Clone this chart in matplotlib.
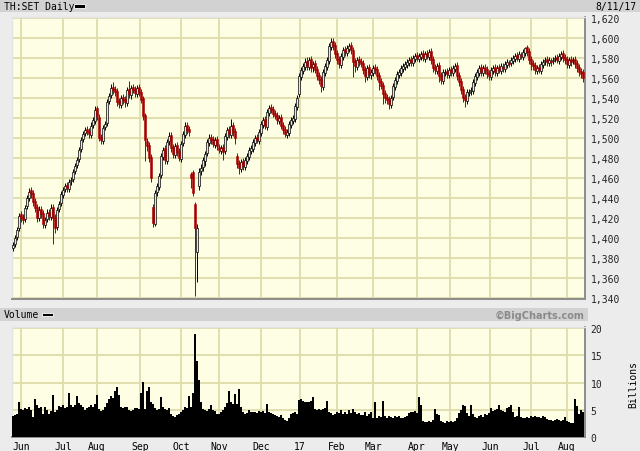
import matplotlib
matplotlib.use("Agg")
import matplotlib.pyplot as plt
from matplotlib.patches import Rectangle
import numpy as np

# ---------------- data ----------------
close = [
1393,1400,1408,1422,1420,1418,1430,1440,1446,1444,
1436,1430,1420,1428,1424,1414,1418,1425,1422,1430,
1420,1410,1428,1434,1444,1448,1452,1450,1456,1458,
1466,1472,1478,1488,1498,1504,1508,1506,1504,1512,
1518,1528,1522,1500,1498,1510,1514,1536,1542,1550,
1548,1546,1536,1534,1540,1538,1536,1548,1544,1550,
1548,1545,1550,1545,1538,1522,1498,1492,1480,1460,
1415,1445,1452,1462,1482,1488,1478,1496,1502,1490,
1484,1492,1486,1480,1494,1504,1512,1508,1506,1460,
1445,1410,1410,1466,1470,1478,1484,1496,1500,1498,
1494,1498,1492,1488,1490,1486,1502,1508,1504,1512,
1506,1500,1474,1470,1476,1472,1478,1482,1488,1490,
1496,1500,1498,1506,1514,1518,1512,1526,1530,1528,
1524,1522,1518,1520,1512,1508,1504,1506,1514,1518,
1520,1532,1540,1562,1568,1572,1576,1572,1578,1570,
1574,1568,1562,1558,1552,1566,1572,1578,1592,1596,
1592,1584,1578,1574,1582,1588,1586,1590,1592,1588,
1576,1572,1578,1576,1574,1568,1562,1570,1564,1566,
1570,1568,1562,1556,1552,1544,1540,1538,1534,1540,
1552,1558,1564,1566,1570,1572,1574,1576,1578,1576,
1580,1582,1580,1582,1584,1580,1584,1582,1586,1578,
1570,1568,1572,1562,1558,1566,1566,1564,1568,1566,
1570,1572,1562,1556,1548,1540,1538,1546,1546,1548,
1556,1562,1566,1570,1566,1570,1568,1564,1562,1568,
1570,1566,1570,1568,1572,1570,1574,1576,1574,1578,
1580,1582,1580,1584,1582,1586,1590,1586,1578,1574,
1572,1568,1570,1568,1574,1576,1578,1576,1578,1576,
1578,1580,1578,1582,1584,1580,1578,1574,1578,1576,
1578,1574,1570,1566,1564,1560]

open_ = [
1390,1394,1401,1410,1424,1421,1419,1432,1440,1448,
1445,1437,1431,1420,1429,1425,1413,1419,1426,1421,
1431,1421,1411,1429,1435,1443,1449,1453,1449,1457,
1459,1467,1473,1479,1489,1499,1505,1509,1507,1503,
1513,1517,1530,1521,1501,1497,1511,1515,1537,1543,
1551,1549,1547,1537,1533,1541,1539,1535,1549,1543,
1551,1549,1544,1551,1546,1540,1523,1497,1493,1481,
1431,1414,1446,1451,1463,1481,1490,1477,1497,1503,
1491,1483,1493,1487,1479,1495,1503,1513,1509,1464,
1466,1434,1386,1452,1467,1471,1477,1485,1495,1501,
1499,1493,1499,1491,1487,1491,1487,1501,1509,1503,
1513,1507,1482,1475,1469,1477,1471,1477,1481,1487,
1489,1495,1501,1497,1505,1513,1519,1511,1525,1531,
1529,1525,1523,1517,1521,1513,1509,1503,1505,1513,
1517,1519,1531,1544,1561,1567,1571,1577,1571,1579,
1571,1575,1569,1563,1559,1551,1565,1571,1577,1591,
1597,1593,1585,1579,1573,1581,1589,1585,1589,1593,
1588,1577,1571,1579,1577,1575,1569,1561,1571,1563,
1565,1571,1569,1563,1557,1553,1545,1541,1539,1533,
1541,1551,1557,1563,1565,1569,1571,1573,1575,1579,
1575,1579,1583,1579,1581,1585,1579,1585,1581,1587,
1579,1571,1567,1573,1563,1557,1565,1567,1563,1569,
1565,1569,1573,1563,1557,1549,1541,1537,1545,1547,
1547,1555,1561,1565,1571,1565,1571,1569,1565,1561,
1567,1571,1565,1571,1567,1571,1569,1573,1575,1575,
1577,1579,1583,1579,1583,1581,1585,1591,1587,1579,
1575,1573,1567,1571,1567,1573,1577,1579,1575,1577,
1577,1579,1581,1577,1581,1585,1581,1579,1573,1579,
1577,1579,1575,1571,1567,1566]

high = [
1396,1403,1411,1425,1427,1424,1433,1443,1450,1451,
1448,1440,1434,1432,1432,1428,1421,1429,1429,1434,
1434,1424,1431,1437,1447,1451,1455,1456,1459,1461,
1469,1475,1481,1491,1501,1507,1511,1512,1510,1516,
1521,1532,1532,1524,1504,1513,1517,1539,1545,1554,
1556,1552,1550,1540,1543,1544,1542,1551,1557,1553,
1554,1552,1553,1554,1549,1542,1525,1500,1496,1484,
1434,1448,1455,1465,1485,1491,1493,1499,1506,1506,
1494,1495,1496,1490,1497,1507,1516,1516,1512,1466,
1468,1436,1414,1470,1474,1481,1487,1499,1504,1504,
1502,1501,1502,1494,1493,1494,1505,1511,1512,1519,
1516,1510,1485,1478,1479,1480,1481,1485,1491,1493,
1499,1503,1504,1509,1517,1521,1522,1529,1533,1534,
1532,1528,1526,1523,1524,1516,1512,1509,1517,1521,
1523,1535,1543,1565,1571,1575,1580,1581,1581,1582,
1577,1578,1572,1566,1562,1569,1575,1581,1595,1600,
1600,1596,1588,1582,1585,1591,1592,1593,1595,1596,
1591,1580,1581,1582,1580,1578,1572,1573,1574,1569,
1573,1574,1572,1566,1560,1556,1548,1544,1542,1543,
1555,1561,1567,1569,1573,1575,1577,1579,1581,1582,
1583,1585,1586,1585,1587,1588,1587,1588,1589,1590,
1582,1574,1575,1576,1566,1569,1569,1570,1571,1572,
1573,1575,1576,1566,1560,1552,1544,1549,1549,1551,
1559,1565,1569,1573,1574,1573,1574,1572,1568,1571,
1573,1574,1573,1574,1575,1575,1577,1579,1578,1581,
1583,1585,1586,1587,1586,1589,1591,1593,1590,1582,
1578,1576,1573,1574,1577,1579,1581,1582,1581,1580,
1581,1583,1584,1585,1587,1588,1584,1582,1581,1582,
1581,1582,1578,1574,1570,1569]

low = [
1387,1391,1398,1407,1416,1414,1416,1429,1437,1440,
1432,1426,1416,1417,1420,1410,1410,1416,1418,1418,
1394,1405,1408,1426,1432,1440,1446,1446,1446,1453,
1456,1464,1470,1476,1486,1496,1502,1503,1500,1500,
1510,1514,1518,1497,1494,1494,1508,1512,1534,1540,
1544,1542,1532,1530,1530,1534,1531,1532,1540,1539,
1545,1541,1541,1542,1535,1518,1477,1487,1476,1456,
1411,1412,1442,1448,1460,1478,1474,1474,1493,1486,
1480,1480,1482,1477,1476,1492,1500,1504,1502,1450,
1442,1342,1356,1448,1463,1467,1472,1482,1492,1494,
1491,1490,1488,1485,1484,1478,1484,1498,1500,1500,
1502,1494,1470,1464,1466,1468,1468,1474,1478,1484,
1486,1492,1495,1494,1502,1510,1509,1508,1522,1525,
1521,1519,1514,1514,1509,1504,1501,1500,1502,1510,
1514,1516,1528,1541,1558,1564,1568,1568,1568,1566,
1566,1565,1558,1554,1546,1548,1562,1568,1574,1588,
1588,1580,1574,1570,1570,1578,1582,1582,1586,1584,
1561,1566,1568,1572,1571,1564,1556,1558,1560,1559,
1562,1564,1558,1548,1549,1534,1535,1534,1529,1530,
1538,1548,1554,1560,1562,1566,1568,1570,1572,1572,
1572,1576,1577,1576,1578,1577,1576,1579,1578,1574,
1566,1564,1564,1556,1554,1554,1562,1560,1560,1562,
1562,1566,1558,1552,1544,1536,1531,1534,1542,1543,
1544,1552,1558,1562,1562,1562,1564,1560,1558,1558,
1564,1562,1562,1565,1564,1566,1566,1570,1571,1572,
1574,1576,1577,1576,1579,1578,1582,1582,1574,1568,
1568,1564,1564,1565,1564,1570,1573,1572,1572,1572,
1574,1576,1575,1574,1578,1576,1574,1570,1570,1572,
1574,1570,1566,1562,1560,1556]

volume = [
3.8,4.0,4.2,6.4,5.2,5.0,5.3,5.1,5.5,5.0,
3.7,7.0,5.8,5.4,5.6,4.2,5.5,5.0,4.2,4.8,
7.7,4.6,5.0,5.7,5.6,5.8,5.4,5.6,8.1,5.8,
5.6,5.9,7.5,6.2,5.8,5.6,5.0,5.4,5.5,5.8,
5.6,6.0,7.7,5.2,4.8,5.0,5.5,6.2,7.0,7.5,
7.2,8.5,9.2,7.8,5.5,5.3,5.5,5.6,5.0,4.8,
5.0,5.4,5.3,5.2,8.0,10.1,5.2,8.5,9.2,6.5,
6.0,5.4,5.0,5.2,7.3,5.5,5.2,5.0,5.4,4.2,
3.8,3.7,4.0,4.2,4.6,5.0,5.6,5.4,7.5,5.6,
8.0,18.9,14.0,10.5,6.4,5.2,5.0,4.8,5.2,5.9,
5.0,4.8,4.2,4.2,4.6,5.0,5.6,6.2,8.5,6.5,
6.0,7.9,6.0,8.8,5.5,4.5,4.2,4.4,5.0,4.6,
4.5,4.6,4.4,4.8,4.5,4.7,4.4,6.0,4.5,4.4,
4.2,4.0,3.8,3.6,4.0,3.5,3.2,3.0,3.5,4.2,
4.4,4.6,4.3,6.8,7.0,6.6,6.4,6.5,6.4,6.6,
7.3,5.2,5.0,5.1,5.0,5.2,5.4,6.7,4.5,4.4,
4.0,4.2,4.6,4.4,5.0,4.2,4.5,4.3,5.0,4.4,
5.2,4.6,4.2,4.4,4.0,4.1,4.5,3.8,4.3,4.6,
3.4,6.4,3.5,3.8,3.6,6.7,3.8,3.5,3.9,3.6,
3.4,3.8,3.6,3.9,3.5,3.4,3.6,3.8,4.4,4.6,
4.5,4.8,4.4,7.3,5.8,3.0,2.8,2.7,3.0,2.8,
3.2,5.2,4.2,4.0,3.0,2.8,2.6,2.9,2.7,3.0,
2.8,3.0,3.4,4.4,5.0,5.8,5.7,4.4,3.8,5.8,
4.2,3.6,3.4,3.8,4.0,3.7,4.2,4.0,4.4,5.3,
4.8,5.0,5.1,5.9,4.9,4.8,4.5,5.3,5.5,5.9,
4.6,3.7,3.8,5.5,3.6,3.5,3.4,3.6,3.5,3.8,
3.7,3.8,3.6,3.7,3.5,3.9,3.6,3.3,3.1,3.2,
3.0,3.2,3.3,3.1,3.0,3.2,3.7,3.0,2.8,2.5,
2.6,7.0,5.7,4.2,5.0,4.6]

month_labels = ["Jun", "Jul", "Aug", "Sep", "Oct", "Nov", "Dec", "17",
                "Feb", "Mar", "Apr", "May", "Jun", "Jul", "Aug"]
month_pos = [4, 25, 42, 63.5, 84, 103, 124, 143.5, 162, 180, 202, 218.5,
             238.5, 259, 277]
price_ticks = list(range(1340, 1621, 20))
vol_ticks = [0, 5, 10, 15, 20]

# ---------------- styling ----------------
FIG_BG = "#ececec"
BAND = "#d2d2d2"
PLOT_BG = "#fefee4"
GRID = "#dedcaa"
RED = "#a50000"
MONO = "DejaVu Sans Mono"

W, H = 640, 452
fig = plt.figure(figsize=(W / 100, H / 100), dpi=100, facecolor=FIG_BG)

def fx(x):
    return x / W

def fy(y):
    return 1 - y / H

# header bands
fig.patches.append(Rectangle((0, fy(13)), 1, 13 / H, transform=fig.transFigure,
                             facecolor=BAND, edgecolor="none", zorder=0))
fig.patches.append(Rectangle((0, fy(322)), fx(588), 13 / H, transform=fig.transFigure,
                             facecolor=BAND, edgecolor="none", zorder=0))

fig.text(fx(4), fy(7), "TH:SET Daily", fontsize=7, family=MONO, va="center", ha="left")
fig.patches.append(Rectangle((fx(74), fy(8.5)), 11 / W, 3.5 / H, transform=fig.transFigure,
                             facecolor="black", edgecolor="white", lw=0.6))
fig.text(fx(636), fy(7), "8/11/17", fontsize=7, family=MONO, va="center", ha="right")

fig.text(fx(4), fy(315.5), "Volume", fontsize=7, family=MONO, va="center", ha="left")
fig.patches.append(Rectangle((fx(42), fy(317)), 11 / W, 3.5 / H, transform=fig.transFigure,
                             facecolor="black", edgecolor="white", lw=0.6))
fig.text(fx(585), fy(315.5), "\u00a9BigCharts.com", fontsize=7, family="DejaVu Sans",
         fontweight="bold", color="#8a8a8a", va="center", ha="right")

# ---------------- price axes ----------------
ax = fig.add_axes([fx(12), fy(300), 573 / W, 282 / H], facecolor=PLOT_BG)
n = len(close)
idx = np.arange(n)
o = np.array(open_)
c = np.array(close)
hi = np.array(high)
lo = np.array(low)
up = c >= o

ax.vlines(idx[up], lo[up], hi[up], color="black", lw=0.7, zorder=3)
ax.vlines(idx[~up], lo[~up], hi[~up], color=RED, lw=0.7, zorder=3)
ax.bar(idx[up], (c - o)[up], bottom=o[up], width=0.9, color="#e6e6e6",
       edgecolor="black", lw=0.5, zorder=4)
ax.bar(idx[~up], (o - c)[~up], bottom=c[~up], width=0.9, color=RED,
       edgecolor=RED, lw=0.4, zorder=4)

ax.set_xlim(-0.5, 286)
ax.set_ylim(1339, 1621)
ax.set_yticks(price_ticks)
ax.set_yticklabels([f"{t:,}" for t in price_ticks])
ax.yaxis.tick_right()
ax.set_xticks(month_pos)
ax.tick_params(axis="x", length=0, labelbottom=False)
ax.tick_params(axis="y", length=0, pad=4, labelsize=7, labelcolor="#222222")
for lab in ax.get_yticklabels():
    lab.set_family(MONO)
ax.grid(True, color=GRID, lw=1.3, zorder=0)
ax.set_axisbelow(True)

# ---------------- volume axes ----------------
av = fig.add_axes([fx(12), fy(438), 573 / W, 110 / H], facecolor=PLOT_BG)
av.bar(idx, volume, width=1.02, color="black", edgecolor="none", zorder=3)
av.set_xlim(-0.5, 286)
av.set_ylim(0, 20.2)
av.set_yticks(vol_ticks)
av.yaxis.tick_right()
av.set_xticks(month_pos)
av.set_xticklabels(month_labels)
av.tick_params(axis="x", length=0, pad=3, labelsize=7)
av.tick_params(axis="y", length=0, pad=4, labelsize=7, labelcolor="#222222")
for lab in av.get_yticklabels() + av.get_xticklabels():
    lab.set_family(MONO)
av.grid(True, color=GRID, lw=1.3, zorder=0)
av.set_axisbelow(True)
fig.text(fx(633), fy(385), "Billions", rotation=90, fontsize=7, family=MONO,
         va="center", ha="center")

for a in (ax, av):
    for s in ("top", "left"):
        a.spines[s].set_color("#e4e4e4")
        a.spines[s].set_linewidth(1.0)
    for s in ("bottom", "right"):
        a.spines[s].set_color("#8c8c8c")
        a.spines[s].set_linewidth(1.4)

fig.savefig("out.png", dpi=100, facecolor=FIG_BG)
